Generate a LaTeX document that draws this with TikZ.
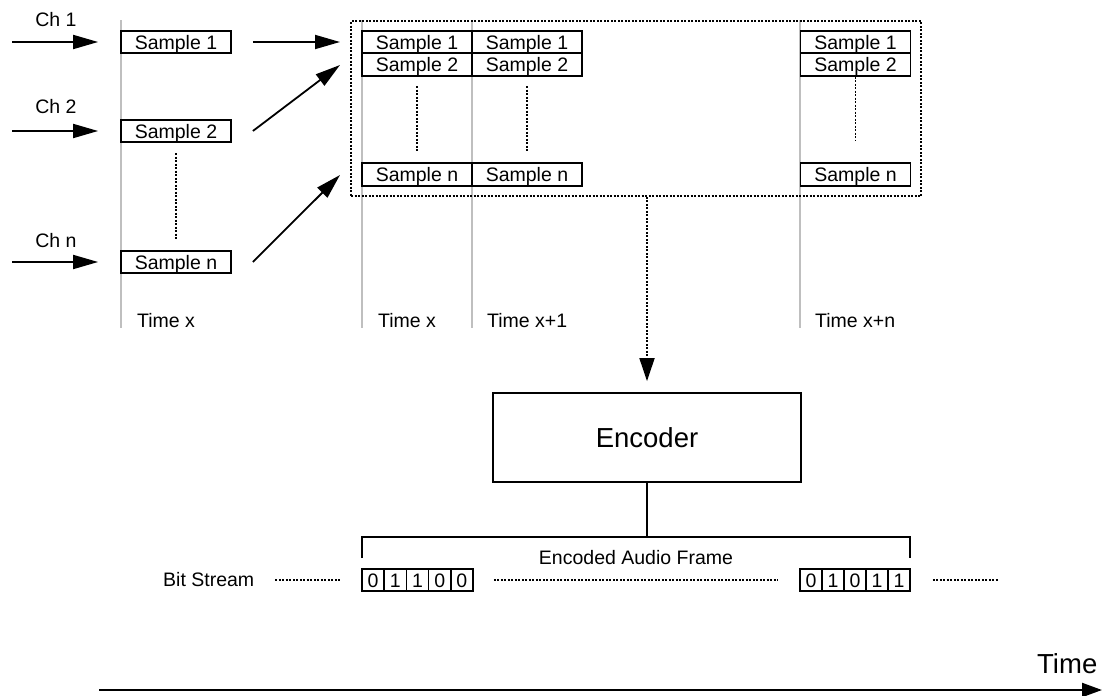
\documentclass[tikz,border=0pt]{standalone}
\usepackage{fontspec}
\setmainfont{Liberation Sans}
\usetikzlibrary{arrows.meta}

\tikzset{
  base font/.style={font=\fontsize{19.5}{22}\selectfont},
  big font/.style={font=\fontsize{27.5}{30}\selectfont},
  samp/.style={draw, line width=1.8pt, minimum width=110pt, minimum height=22.5pt,
    inner sep=0pt, text height=14pt, text depth=0pt, base font},
  bit/.style={draw, line width=1.5pt, minimum width=22.2pt, minimum height=22pt,
    inner sep=0pt, text height=14pt, text depth=0pt, base font},
  lbl/.style={inner sep=0pt, base font},
  timeline/.style={draw=black!25, line width=1.8pt},
  dots/.style={line width=1.6pt, dash pattern=on 2pt off 1.5pt},
  flow/.style={line width=1.8pt, -{Triangle[length=25pt,width=14pt]}},
  sep/.style={line width=1.8pt},
}

\begin{document}
\begin{tikzpicture}[x=1pt,y=-1pt]
\useasboundingbox (0,0) rectangle (1103,696);

% time grid lines
\draw[timeline] (121,20) -- (121,328);
\draw[timeline] (362,20) -- (362,328);
\draw[timeline] (472,20) -- (472,328);
\draw[timeline] (800,20) -- (800,328);

% time labels
\node[lbl, anchor=base west] (tl0) at (137,327) {Time x};
\node[lbl, anchor=base west] (tl1) at (378,327) {Time x};
\node[lbl, anchor=base west] (tl2) at (487,327) {Time x+1};
\node[lbl, anchor=base west] (tl3) at (815,327) {Time x+n};

% input channels
\node[lbl, anchor=base] (ch1) at (56,27) {Ch 1};
\node[lbl, anchor=base] (ch2) at (56,113) {Ch 2};
\node[lbl, anchor=base] (chn) at (56,247) {Ch n};

\node[samp] (s1) at (176,42) {Sample 1};
\node[samp] (s2) at (176,131) {Sample 2};
\node[samp] (sn) at (176,262) {Sample n};
\draw[dots] (s2.south) ++(0,10) coordinate (d0a) -- (176,239) coordinate (d0b);

\coordinate (c1) at (12,42);
\coordinate (c2) at (12,131);
\coordinate (cn) at (12,262);
\draw[flow, shorten >=22pt] (c1) -- (s1.west);
\draw[flow, shorten >=22pt] (c2) -- (s2.west);
\draw[flow, shorten >=22pt] (cn) -- (sn.west);

% buffered frame
\node[draw, dots, minimum width=570pt, minimum height=175pt, inner sep=0pt] (buf) at (636,108.5) {};

\coordinate (p1) at (340,42);
\coordinate (p2) at (340,65);
\coordinate (pn) at (340,175);
\draw[flow, shorten <=21pt] (s1.east) -- (p1);
\draw[flow] ([xshift=21pt]s2.east) -- (p2);
\draw[flow] ([xshift=21pt]sn.east) -- (pn);

% columns of samples
\node[samp] (a1) at (417,42) {Sample 1};
\node[samp] (a2) at (417,64.5) {Sample 2};
\node[samp] (an) at (417,174.5) {Sample n};
\node[samp] (b1) at (527,42) {Sample 1};
\node[samp] (b2) at (527,64.5) {Sample 2};
\node[samp] (bn) at (527,174.5) {Sample n};
\node[samp] (e1) at (855.5,42) {Sample 1};
\node[samp] (e2) at (855.5,64.5) {Sample 2};
\node[samp] (en) at (855.5,174.5) {Sample n};
\draw[dots] (417,86) -- (417,152);
\draw[dots] (527,86) -- (527,152);
\draw[dots] (e2.south) -- (855.5,141);

% encoder
\node[draw, line width=1.8pt, minimum width=308pt, minimum height=89pt, inner sep=0pt,
  big font, text height=19pt, text depth=0pt] (enc) at (647,437.5) {Encoder};
\draw[dots] (buf.south -| enc.north) -- (647,362);
\draw[line width=1.8pt, -{Triangle[length=23pt,width=15pt]}, shorten >=11pt]
  (647,358) -- (enc.north);

% encoded bit stream
\node[lbl, anchor=base west] (bs) at (163,586) {Bit Stream};
\foreach \v [count=\i] in {0,1,1,0,0}
  \node[bit] (f\i) at ({362+22.2*\i-11.1},580) {\v};
\foreach \v [count=\i] in {0,1,0,1,1}
  \node[bit] (g\i) at ({800+22*\i-11},580) {\v};

\draw[dots, shorten <=21pt, shorten >=21pt] (bs.east |- f1.west) -- (f1.west);
\draw[dots, shorten <=20pt, shorten >=21pt] (f5.east) -- (g1.west);
\coordinate (tail) at (998,580);
\draw[dots, shorten <=22pt] (g5.east) -- (tail);

% frame bracket
\coordinate (brl) at (362,558);
\coordinate (brr) at (910,558);
\draw[sep] (brl) -- (362,537) -- (910,537) -- (brr);
\draw[sep] (enc.south) -- (647,537);
\node[lbl, anchor=base] (eaf) at (636,564) {Encoded Audio Frame};

% time axis
\node[inner sep=0pt, anchor=base west, big font] (time) at (1037,673) {Time};
\coordinate (t0) at (99,690);
\coordinate (t1) at (1102,690);
\draw[line width=2.2pt, -{Triangle[length=20pt,width=14pt]}] (t0) -- (t1);
\end{tikzpicture}
\end{document}
